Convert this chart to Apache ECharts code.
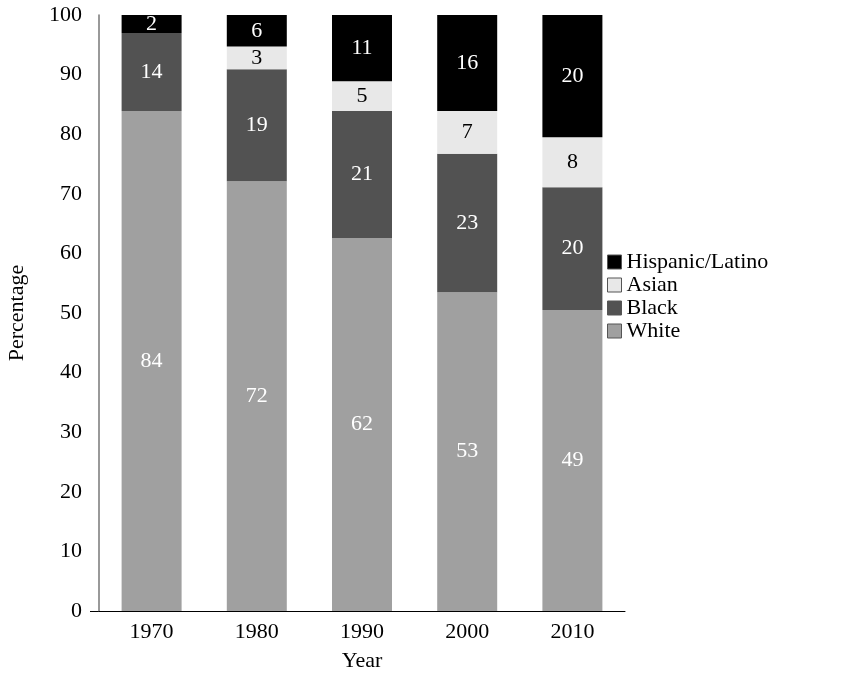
<!DOCTYPE html>
<html>
<head>
<meta charset="utf-8">
<script src="https://cdn.jsdelivr.net/npm/echarts@6/dist/echarts.min.js"></script>
<style>
html,body{margin:0;padding:0;background:#fff;}
#chart{width:863px;height:674px;}
</style>
</head>
<body>
<div id="chart"></div>
<script>
// Categories
var years = ['1970', '1980', '1990', '2000', '2010'];
// Bar heights (share of total, as drawn)
var white = [83.9, 72.1, 62.6, 53.5, 50.5];
var black = [13.1, 18.8, 21.3, 23.2, 20.6];
var asian = [0, 3.8, 5.0, 7.2, 8.4];
var hispanic = [3.0, 5.3, 11.1, 16.1, 20.5];
// Printed labels
var whiteLabels = [84, 72, 62, 53, 49];
var blackLabels = [14, 19, 21, 23, 20];
var asianLabels = [null, 3, 5, 7, 8];
var hispanicLabels = [2, 6, 11, 16, 20];
// Tick values
var yTicks = [0, 10, 20, 30, 40, 50, 60, 70, 80, 90, 100];

var FONT = '"Liberation Serif", "DejaVu Serif", serif';
var FS = 22;

function makeSeries(name, data, labels, color, labelColor) {
  return {
    name: name,
    type: 'bar',
    stack: 'total',
    barWidth: 60,
    data: data,
    itemStyle: { color: color },
    label: {
      show: true,
      position: 'inside',
      color: labelColor,
      fontFamily: FONT,
      fontSize: FS,
      formatter: function (p) {
        var v = labels[p.dataIndex];
        return v == null ? '' : String(v);
      }
    },
    emphasis: { disabled: true }
  };
}

var chart = echarts.init(document.getElementById('chart'), null, { renderer: 'canvas' });
var gridLeft = 99, gridRight = 238, gridTop = 15, gridBottom = 63;

chart.setOption({
  animation: false,
  backgroundColor: '#ffffff',
  textStyle: { fontFamily: FONT },
  grid: { left: gridLeft, right: gridRight, top: gridTop, bottom: gridBottom, containLabel: false, outerBoundsMode: 'none' },
  legend: {
    orient: 'vertical',
    left: 602,
    top: 246,
    itemWidth: 14,
    itemHeight: 14,
    itemGap: 1,
    icon: 'rect',
    data: ['Hispanic/Latino', 'Asian', 'Black', 'White'],
    itemStyle: { borderColor: '#555', borderWidth: 1 },
    textStyle: { fontFamily: FONT, fontSize: FS, color: '#000', lineHeight: 22 },
    selectedMode: false
  },
  xAxis: {
    type: 'category',
    data: years,
    name: 'Year',
    nameLocation: 'middle',
    nameGap: 39,
    nameTextStyle: { fontFamily: FONT, fontSize: FS, color: '#000' },
    axisLine: { show: true, lineStyle: { color: '#000', width: 1 } },
    axisTick: { show: false },
    axisLabel: { fontFamily: FONT, fontSize: FS, color: '#000', margin: 10 }
  },
  yAxis: {
    type: 'value',
    min: yTicks[0],
    max: yTicks[yTicks.length - 1],
    interval: yTicks[1] - yTicks[0],
    name: 'Percentage',
    nameLocation: 'middle',
    nameGap: 71,
    nameTextStyle: { fontFamily: FONT, fontSize: FS, color: '#000' },
    axisLine: { show: true, lineStyle: { color: '#777', width: 1.5 } },
    axisTick: { show: false },
    splitLine: { show: false },
    axisLabel: { fontFamily: FONT, fontSize: FS, color: '#000', margin: 17 }
  },
  series: [
    makeSeries('White', white, whiteLabels, '#a0a0a0', '#ffffff'),
    makeSeries('Black', black, blackLabels, '#525252', '#ffffff'),
    makeSeries('Asian', asian, asianLabels, '#e8e8e8', '#000000'),
    makeSeries('Hispanic/Latino', hispanic, hispanicLabels, '#000000', '#ffffff')
  ]
});

// Extend the x axis line slightly to the left of the y axis (as in the reference)
var y0 = chart.convertToPixel({ yAxisIndex: 0 }, 0);
var x0 = chart.convertToPixel({ xAxisIndex: 0 }, years[0]) - chart.getModel().getComponent('xAxis', 0).axis.getBandWidth() / 2;
chart.setOption({
  graphic: [{
    type: 'line',
    shape: { x1: x0 - 9, y1: Math.round(y0) + 0.5, x2: x0, y2: Math.round(y0) + 0.5 },
    style: { stroke: '#000', lineWidth: 1 },
    silent: true
  }]
});
</script>
</body>
</html>
